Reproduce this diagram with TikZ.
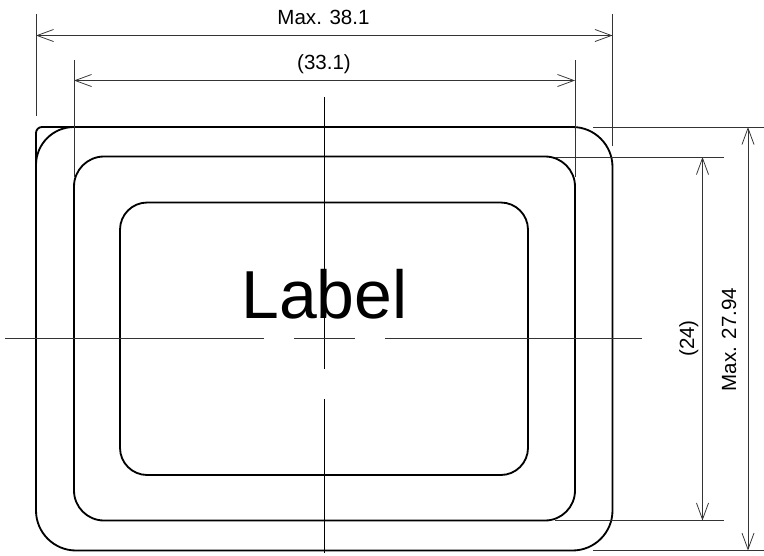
\documentclass[tikz,border=0pt]{standalone}
\usepackage{fontspec}
\setmainfont{Liberation Sans}
\usetikzlibrary{arrows.meta}

\begin{document}
\begin{tikzpicture}[x=0.025cm,y=-0.025cm,
  outline/.style={draw=black,line width=1.3pt},
  helper/.style={draw=black!80,line width=0.6pt},
  centerline/.style={draw=black,line width=0.6pt},
  dimline/.style={helper,{Straight Barb[length=11.7pt,width=8.6pt,line width=0.55pt]}-{Straight Barb[length=11.7pt,width=8.6pt,line width=0.55pt]}},
  dimtext/.style={inner sep=0pt,anchor=base,font=\fontsize{14.6pt}{17pt}\selectfont}]
\useasboundingbox (0,0) rectangle (764,555);

\coordinate (extA0) at (36,14);
\coordinate (extA1) at (36,116);
\coordinate (extB0) at (612.5,14);
\coordinate (extB1) at (612.5,146);
\coordinate (extC0) at (74,60);
\coordinate (extC1) at (74,177);
\coordinate (extD0) at (575,60);
\coordinate (extD1) at (575,177);
\coordinate (extE0) at (593,127);
\coordinate (extE1) at (764,127);
\coordinate (extF0) at (555,157);
\coordinate (extF1) at (724,157);
\coordinate (extG0) at (555,520.5);
\coordinate (extG1) at (724,520.5);
\coordinate (extH0) at (593,550.5);
\coordinate (extH1) at (764,550.5);

\coordinate (dimA0) at (36,35.5);
\coordinate (dimA1) at (612.5,35.5);
\coordinate (dimB0) at (74,80.5);
\coordinate (dimB1) at (575,80.5);
\coordinate (dimC0) at (702.5,157);
\coordinate (dimC1) at (702.5,520.5);
\coordinate (dimD0) at (748,127);
\coordinate (dimD1) at (748,550.5);

% Draw outer shape
\draw[outline,rounded corners=0.95cm] (36,340) -- (36,127) -- (200,127);
\draw[outline] (36,340) [rounded corners=0.15cm] -- (36,127) [rounded corners=1cm] -- (612.5,127) -- (612.5,550.5) -- (36,550.5) -- (36,340);

% Draw middle and inner shape
\draw[outline,rounded corners=0.75cm] (74,156.5) rectangle (575,520.5);
\draw[outline,rounded corners=0.68cm] (120,202.5) rectangle (528,475);

% Draw center lines
\draw[centerline] (324.5,97) -- (324.5,369);
\draw[centerline] (324.5,399) -- (324.5,553);
\draw[helper] (5,338.5) -- (264,338.5);
\draw[helper] (294,338.5) -- (355,338.5);
\draw[helper] (385,338.5) -- (642,338.5);

% Draw extension lines
\draw[helper] (extA0) -- (extA1);
\draw[helper] (extB0) -- (extB1);
\draw[helper] (extC0) -- (extC1);
\draw[helper] (extD0) -- (extD1);
\draw[helper] (extE0) -- (extE1);
\draw[helper] (extF0) -- (extF1);
\draw[helper] (extG0) -- (extG1);
\draw[helper] (extH0) -- (extH1);

% Draw dimensions
\draw[dimline] (dimA0) -- (dimA1);
\draw[dimline] (dimB0) -- (dimB1);
\draw[dimline] (dimC0) -- (dimC1);
\draw[dimline] (dimD0) -- (dimD1);

\node[dimtext] (width0) at (323.5,24) {Max. 38.1};
\node[dimtext] (width1) at (324,69) {(33.1)};
\node[dimtext,rotate=90] (height1) at (694,338.5) {(24)};
\node[dimtext,rotate=90] (height0) at (736,339.5) {Max. 27.94};
\node[inner sep=0pt,anchor=base,font=\fontsize{48.3pt}{56pt}\selectfont] (label) at (324.5,318) {Label};
\end{tikzpicture}
\end{document}
